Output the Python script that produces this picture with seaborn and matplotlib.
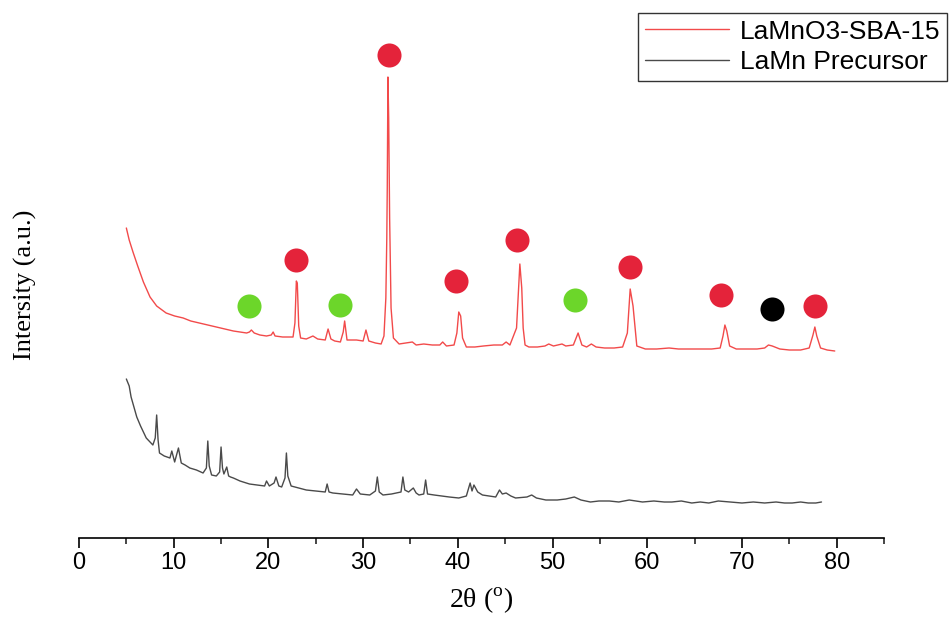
import numpy as np
import pandas as pd
import seaborn as sns
import matplotlib.pyplot as plt

sns.set_style("ticks")
plt.rcParams['font.family'] = ['Liberation Sans', 'DejaVu Sans']
plt.rcParams['mathtext.fontset'] = 'custom'
plt.rcParams['mathtext.rm'] = 'Liberation Serif'
plt.rcParams['text.color'] = 'black'
plt.rcParams['axes.labelcolor'] = 'black'

# Data (2theta, intensity a.u.)

sba_x = [5.0, 5.3, 5.7, 6.2, 6.8, 7.5, 8.2, 9.2, 10.1, 11.0, 11.8, 12.7, 13.6, 14.5, 15.4, 16.3,
         17.0, 17.7, 18.0, 18.2, 18.5, 19.1, 19.8, 20.3, 20.5, 20.7, 21.5, 22.6, 22.8, 22.95, 23.05,
         23.2, 23.4, 24.0, 24.7, 25.2, 26.0, 26.3, 26.6, 27.0, 27.6, 27.9, 28.05, 28.3, 29.3, 30.0,
         30.3, 30.6, 31.3, 31.9, 32.2, 32.4, 32.5, 32.55, 32.62, 32.7, 32.8, 32.95, 33.2, 33.8, 34.5,
         35.2, 35.6, 36.4, 37.3, 38.1, 38.4, 38.8, 39.6, 39.9, 40.1, 40.3, 40.5, 40.9, 41.8, 42.7,
         43.8, 44.7, 45.1, 45.5, 46.2, 46.55, 46.75, 46.9, 47.1, 47.5, 48.4, 49.2, 49.6, 50.1, 51.0,
         51.4, 52.2, 52.7, 53.1, 53.6, 54.1, 54.6, 55.5, 56.5, 57.4, 57.9, 58.2, 58.5, 58.9, 59.8,
         61.0, 62.3, 63.3, 64.6, 65.8, 66.8, 67.7, 68.0, 68.2, 68.4, 68.7, 69.4, 70.4, 71.6, 72.4,
         72.8, 73.2, 74.0, 75.0, 76.2, 77.1, 77.5, 77.7, 77.9, 78.3, 79.0, 79.8]
sba_y = [310, 298, 286, 272, 256, 241, 232, 225, 222, 220, 217, 215, 213, 211, 209, 207,
         206, 205, 206, 208, 205, 203, 202, 203, 206, 202, 201, 201, 215, 257, 255,
         212, 200, 199, 202, 199, 198, 209, 199, 197, 196, 206, 217, 198, 198, 197,
         208, 197, 195, 194, 202, 240, 300, 350, 461, 420, 320, 230, 200, 194, 195,
         196, 193, 194, 193, 193, 196, 192, 193, 205, 226, 222, 200, 191, 191, 192,
         193, 193, 196, 193, 210, 274, 250, 210, 193, 191, 191, 192, 194, 192, 194,
         192, 193, 205, 193, 191, 194, 191, 190, 190, 191, 205, 249, 232, 192, 189,
         189, 190, 189, 189, 189, 189, 190, 202, 213, 207, 192, 189, 189, 189, 190,
         193, 192, 189, 188, 188, 190, 203, 211, 202, 190, 188, 187]

pre_x = [5.0, 5.3, 5.5, 5.8, 6.1, 6.5, 6.8, 7.1, 7.5, 7.8, 8.05, 8.2, 8.35, 8.5, 9.0, 9.6, 9.8,
         10.1, 10.5, 10.8, 11.2, 11.7, 12.4, 13.1, 13.45, 13.6, 13.75, 14.0, 14.5, 14.85, 15.0,
         15.15, 15.3, 15.6, 15.8, 16.0, 16.3, 17.0, 18.0, 18.8, 19.6, 19.8, 20.1, 20.6, 20.8, 21.1,
         21.4, 21.75, 21.9, 22.05, 22.4, 23.2, 24.0, 25.0, 26.0, 26.2, 26.4, 26.8, 27.8, 28.9, 29.3,
         29.7, 30.7, 31.3, 31.5, 31.7, 32.1, 33.0, 34.0, 34.2, 34.4, 34.8, 35.3, 35.6, 35.9, 36.4,
         36.6, 36.8, 37.5, 38.3, 39.1, 40.1, 40.9, 41.3, 41.5, 41.7, 42.1, 42.6, 43.3, 44.0, 44.4,
         44.7, 45.1, 45.6, 46.1, 47.3, 47.8, 48.3, 49.3, 50.5, 51.4, 52.3, 53.0, 54.0, 54.9, 56.0,
         57.0, 58.1, 59.5, 60.7, 61.8, 62.6, 63.6, 64.7, 65.6, 66.5, 67.5, 68.8, 70.0, 71.2, 72.4,
         73.6, 74.5, 75.3, 76.2, 77.0, 77.8, 78.4]
pre_y = [159, 152, 141, 131, 121, 112, 106, 100, 96, 93, 100, 123, 98, 85, 82, 80, 87,
         76, 90, 75, 73, 70, 68, 65, 70, 97, 72, 63, 62, 66, 91,
         70, 64, 71, 62, 61, 60, 57, 54, 53, 52, 57, 52, 55, 61, 52,
         51, 60, 85, 62, 52, 50, 48, 47, 46, 54, 46, 45, 44, 43, 49,
         44, 43, 47, 61, 46, 43, 44, 46, 61, 48, 46, 50, 45, 43, 44,
         58, 44, 43, 42, 41, 40, 42, 55, 47, 53, 46, 43, 42, 41, 48,
         44, 45, 42, 40, 41, 43, 40, 38, 38, 39, 41, 38, 36, 37, 37,
         36, 38, 36, 37, 36, 36, 37, 35, 36, 35, 37, 36, 35, 36, 35,
         36, 35, 35, 36, 35, 35, 36]

# phase markers above the peaks
red_x = [22.9, 32.7, 39.8, 46.3, 58.2, 67.8, 77.7]
red_y = [278, 483, 257, 298, 271, 243, 232]
green_x = [18.0, 27.6, 52.4]
green_y = [232, 233, 238]
black_x = [73.2]
black_y = [229]

sba = pd.DataFrame({"x": sba_x, "y": sba_y})
pre = pd.DataFrame({"x": pre_x, "y": pre_y})

fig = plt.figure(figsize=(9.5, 6.21), dpi=100)
ax = fig.add_axes([79 / 950, 83 / 621, 805 / 950, 528 / 621])

sns.lineplot(data=sba, x="x", y="y", ax=ax, color="#f24a4a", lw=1.0, sort=False,
             label="LaMnO3-SBA-15")
sns.lineplot(data=pre, x="x", y="y", ax=ax, color="#4a4a4a", lw=1.0, sort=False,
             label="LaMn Precursor")

sns.scatterplot(x=red_x, y=red_y, ax=ax, color="#e4233a", s=300, linewidth=0, zorder=5)
sns.scatterplot(x=green_x, y=green_y, ax=ax, color="#6cd62a", s=300, linewidth=0, zorder=5)
sns.scatterplot(x=black_x, y=black_y, ax=ax, color="black", s=300, linewidth=0, zorder=5)

ax.set_xlim(0, 85)
ax.set_ylim(0, 528)
ax.set_xticks(range(0, 81, 10))
ax.set_xticks(range(5, 86, 10), minor=True)
ax.set_yticks([])
ax.tick_params(axis="x", which="major", length=7, width=1.2, labelsize=17,
               colors="black", pad=3)
ax.tick_params(axis="x", which="minor", length=4, width=1.2)
for s in ["left", "right", "top"]:
    ax.spines[s].set_visible(False)
ax.spines["bottom"].set_linewidth(1.2)
ax.spines["bottom"].set_color("black")

ax.set_xlabel("2θ ($^{\\rm o}$)", family="Liberation Serif", fontsize=20, labelpad=9)
ax.set_ylabel("Intersity (a.u.)", family="Liberation Serif", fontsize=19)
ax.yaxis.set_label_coords(-0.052, 0.48)

leg = ax.legend(loc="upper right", bbox_to_anchor=(947 / 950, 1 - 13 / 621),
                bbox_transform=fig.transFigure, fontsize=19, frameon=True, fancybox=False,
                handlelength=3.2, handletextpad=0.4, borderpad=0.25, labelspacing=0.25,
                borderaxespad=0)
leg.get_frame().set_edgecolor("black")
leg.get_frame().set_linewidth(1.0)

fig.savefig("out.png", dpi=100)
